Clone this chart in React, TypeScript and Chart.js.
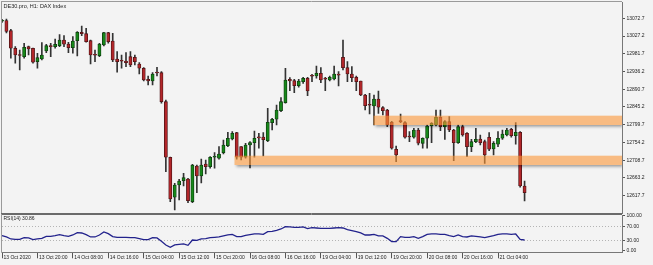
import React, { useEffect, useRef } from "react";
import { Chart, registerables } from "chart.js";

Chart.register(...registerables);

const TITLE = "DE30.pro, H1: DAX Index";
const RSI_TITLE = "RSI(14) 30.86";

const xTickLabels = [
  "13 Oct 2020", "13 Oct 20:00", "14 Oct 08:00", "14 Oct 16:00", "15 Oct 04:00",
  "15 Oct 12:00", "15 Oct 20:00", "16 Oct 08:00", "16 Oct 16:00", "19 Oct 04:00",
  "19 Oct 12:00", "19 Oct 20:00", "20 Oct 08:00", "20 Oct 16:00", "21 Oct 04:00",
];
const priceTicks = [12617.7, 12663.2, 12708.7, 12754.2, 12799.7, 12845.2, 12890.7, 12936.2, 12981.7, 13027.2, 13072.7];
const rsiTicks = [0, 30, 70, 100];
const rsiLevels = [70, 30];

const open = [
  13065, 13067.1, 13040.9, 12995.8, 12979.9, 12974.2, 12999.9, 12995.8, 12961.4, 12968.3,
  12988.8, 13002.4, 12999.9, 13002.4, 13017.1, 13006.8, 12997.3, 13015.3, 13036.8, 13033.2,
  13015.3, 12978.6, 12976.8, 13004.2, 13035.8, 13014.5, 12968.3, 12963.2, 12963.2, 12974.2,
  12972.7, 12955.5, 12944.4, 12916.2, 12911.9, 12933.2, 12933.2, 12858.7, 12716.1, 12613.4,
  12645.0, 12656.0, 12660.4, 12602.1, 12693.7, 12668.1, 12698.9, 12692.0, 12716.1, 12713.5,
  12727.9, 12745.8, 12763.0, 12779.2, 12743.3, 12716.1, 12747.6, 12753.5, 12766.4, 12768.2,
  12758.7, 12804.9, 12813.6, 12835.6, 12856.2, 12916.2, 12912.6, 12899.8, 12910.1, 12918.8,
  12924.7, 12924.7, 12931.6, 12917.0, 12914.4, 12917.0, 12929.8, 12972.7, 12946.0, 12929.8,
  12921.3, 12911.9, 12875.9, 12850.3, 12847.7, 12865.6, 12843.3, 12837.4, 12806.0, 12736.6,
  12810.0, 12804.9, 12768.9, 12767.4, 12786.1, 12751.9, 12764.8, 12796.4, 12799.0, 12818.7,
  12794.6, 12807.4, 12786.1, 12753.5, 12794.6, 12777.6, 12743.3, 12756.1, 12763.0, 12756.1,
  12767.4, 12737.4, 12749.4, 12764.8, 12773.3, 12787.9, 12771.5, 12780.2, 12642.4,
];
const high = [
  13070.0, 13070.9, 13044.5, 12999.9, 12991.4, 13008.6, 13001.7, 12996.5, 12982.9, 13010.1,
  13006.0, 13008.6, 13019.6, 13030.7, 13028.1, 13011.2, 13025.5, 13038.4, 13053.0, 13047.1,
  13017.1, 12991.4, 13008.6, 13036.8, 13036.8, 13034.2, 12987.0, 12978.6, 12984.5, 12987.0,
  12978.6, 12958.8, 12946.0, 12924.7, 12933.2, 12947.0, 12935.7, 12863.1, 12716.8, 12649.3,
  12659.6, 12675.0, 12662.2, 12698.1, 12696.3, 12711.7, 12709.1, 12717.6, 12727.9, 12743.3,
  12760.5, 12780.2, 12781.7, 12780.2, 12743.3, 12751.9, 12756.1, 12783.5, 12777.6, 12779.2,
  12841.8, 12816.1, 12850.3, 12869.0, 12944.4, 12920.3, 12916.2, 12916.2, 12921.3, 12921.3,
  12929.0, 12950.3, 12946.0, 12921.3, 12924.7, 12950.3, 12935.7, 13017.1, 12961.4, 12948.6,
  12924.7, 12911.9, 12877.7, 12880.3, 12875.9, 12886.2, 12845.9, 12839.2, 12808.0, 12745.1,
  12827.2, 12807.4, 12781.7, 12790.5, 12790.5, 12766.0, 12799.0, 12804.9, 12837.4, 12837.4,
  12810.0, 12820.2, 12787.9, 12799.0, 12799.0, 12779.2, 12762.2, 12790.5, 12773.3, 12760.5,
  12779.2, 12756.1, 12781.7, 12786.1, 12790.5, 12790.5, 12804.9, 12781.7, 12655.2,
];
const low = [
  13062.0, 13035.0, 12970.1, 12957.3, 12940.1, 12970.1, 12978.6, 12957.3, 12944.4, 12965.7,
  12984.5, 12974.2, 12995.8, 12999.9, 12999.9, 12984.5, 12982.9, 12976.0, 13028.1, 13011.2,
  12955.5, 12961.4, 12974.2, 13001.7, 13008.6, 12961.4, 12934.2, 12944.4, 12948.6, 12948.6,
  12952.9, 12929.8, 12911.9, 12901.6, 12901.6, 12924.7, 12854.6, 12679.1, 12602.1, 12580.8,
  12606.5, 12642.4, 12599.6, 12599.6, 12625.2, 12650.1, 12673.2, 12687.8, 12687.8, 12710.9,
  12724.5, 12743.3, 12760.5, 12710.9, 12709.1, 12713.5, 12688.6, 12716.1, 12739.2, 12719.4,
  12756.1, 12786.1, 12799.0, 12833.1, 12854.6, 12887.0, 12881.8, 12895.7, 12905.9, 12874.1,
  12910.1, 12918.8, 12907.5, 12887.0, 12911.9, 12914.4, 12899.0, 12940.1, 12910.1, 12910.1,
  12887.0, 12874.1, 12837.4, 12827.2, 12799.0, 12828.9, 12824.6, 12794.6, 12736.6, 12704.8,
  12804.9, 12764.8, 12756.1, 12764.8, 12747.6, 12739.2, 12739.2, 12753.5, 12796.4, 12784.3,
  12762.2, 12781.7, 12707.3, 12751.9, 12770.0, 12717.6, 12730.4, 12753.5, 12747.6, 12700.6,
  12733.0, 12722.0, 12743.3, 12762.2, 12770.7, 12767.4, 12749.4, 12639.1, 12603.9,
];
const close = [
  13067.0, 13038.9, 12995.8, 12978.6, 12977.3, 12998.3, 12994.0, 12959.8, 12971.6, 12978.6,
  13002.4, 12999.9, 13006.0, 13017.1, 13006.0, 12997.3, 13014.5, 13036.8, 13033.2, 13012.7,
  12978.6, 12977.8, 13006.8, 13035.8, 13012.7, 12965.7, 12961.4, 12962.4, 12958.8, 12952.9,
  12961.4, 12944.4, 12914.4, 12911.9, 12929.8, 12932.4, 12858.7, 12716.1, 12609.1, 12645.0,
  12655.2, 12663.7, 12604.7, 12696.3, 12668.1, 12696.3, 12692.0, 12716.1, 12717.6, 12724.5,
  12747.6, 12764.8, 12777.6, 12716.1, 12716.1, 12747.6, 12753.5, 12764.8, 12765.8, 12761.2,
  12805.9, 12813.6, 12837.4, 12858.7, 12914.4, 12911.9, 12899.8, 12911.9, 12918.8, 12886.2,
  12923.9, 12931.6, 12914.4, 12916.2, 12921.3, 12929.8, 12926.5, 12946.0, 12929.8, 12920.3,
  12910.1, 12875.9, 12848.5, 12849.5, 12865.6, 12844.4, 12835.6, 12799.0, 12739.2, 12722.0,
  12807.4, 12767.4, 12768.2, 12786.1, 12752.0, 12764.8, 12796.4, 12803.3, 12818.7, 12794.6,
  12807.4, 12786.1, 12753.5, 12794.6, 12773.3, 12743.3, 12756.1, 12762.2, 12753.5, 12722.0,
  12736.6, 12751.9, 12764.8, 12775.8, 12786.1, 12771.5, 12780.2, 12642.4, 12625.2,
];
const rsi = [
  43.3, 39.5, 33.8, 32.8, 32.8, 37.6, 36.7, 31.9, 33.8, 35.7,
  41.4, 41.4, 43.3, 46.2, 43.3, 41.4, 45.2, 51.9, 50.9, 46.2,
  39.5, 39.5, 45.2, 53.8, 49.0, 40.5, 38.6, 38.6, 38.6, 37.6,
  37.6, 34.7, 31.9, 31.9, 37.6, 36.7, 27.1, 16.7, 10.0, 16.7,
  18.6, 19.5, 15.7, 30.9, 30.0, 33.8, 34.7, 37.6, 38.6, 39.5,
  42.4, 45.2, 47.1, 40.5, 40.5, 44.3, 46.2, 48.1, 48.1, 47.1,
  54.7, 55.7, 58.5, 62.3, 69.0, 68.1, 67.1, 67.1, 68.1, 63.3,
  66.2, 65.2, 64.3, 64.3, 64.3, 65.2, 66.2, 65.2, 60.5, 57.6,
  54.7, 50.9, 45.2, 45.2, 47.1, 42.4, 42.4, 35.7, 26.2, 26.2,
  40.5, 38.6, 38.6, 40.5, 35.7, 40.5, 47.1, 48.1, 48.1, 47.1,
  47.1, 43.3, 40.5, 45.2, 40.5, 39.5, 42.4, 41.4, 39.5, 37.6,
  40.5, 43.3, 47.1, 48.1, 48.1, 47.1, 48.1, 32.8, 30.86,
];

// support / resistance zones: starting bar index and price range
const bandStart = [52.5, 83.9];
const bandLow = [12696.3, 12798.9];
const bandHigh = [12720.1, 12822.8];

const PRICE_MIN = 12571.8;
const PRICE_MAX = 13114.5;
const RSI_MIN = -4.3;
const RSI_MAX = 102.3;
const SLOT_COUNT = 141;
const LABEL_EVERY = 8;

const FONT_FAMILY = "'Liberation Sans', Arial, sans-serif";
const FONT_SIZE = 5;
const TITLE_SIZE = 5.5;
const BULL = "#17881a";
const BULL_EDGE = "#0d3a0e";
const BEAR = "#b2262a";
const BEAR_EDGE = "#4a1214";
const WICK = "#333333";
const BAND = "rgba(252,150,55,0.6)";
const TEXT = "#1c1c1c";

const slotLabels = Array.from({ length: SLOT_COUNT }, (_, i) =>
  i % LABEL_EVERY === 0 && i / LABEL_EVERY < xTickLabels.length ? xTickLabels[i / LABEL_EVERY] : ""
);

const tickFont = { family: FONT_FAMILY, size: FONT_SIZE };

const mainDecor = {
  id: "mainDecor",
  afterDatasetsDraw(chart: any) {
    const { ctx, chartArea: a, scales } = chart;
    const xs = scales.x;
    const ys = scales.y;
    for (let k = 0; k < bandStart.length; k++) {
      const x0 = xs.getPixelForValue(bandStart[k]);
      const yT = ys.getPixelForValue(bandHigh[k]);
      const yB = ys.getPixelForValue(bandLow[k]);
      ctx.save();
      ctx.beginPath();
      ctx.rect(a.left, a.top, a.right - a.left, a.bottom - a.top);
      ctx.rect(x0, yT, a.right - x0, yB - yT);
      ctx.clip("evenodd");
      ctx.shadowColor = "rgba(0,0,0,0.4)";
      ctx.shadowBlur = 3;
      ctx.shadowOffsetX = 10000 + 1;
      ctx.shadowOffsetY = 2;
      ctx.fillStyle = "#000";
      ctx.fillRect(x0 - 10000, yT, a.right - x0, yB - yT);
      ctx.restore();
      ctx.save();
      ctx.beginPath();
      ctx.rect(a.left, a.top, a.right - a.left, a.bottom - a.top);
      ctx.clip();
      ctx.fillStyle = BAND;
      ctx.fillRect(x0, yT, a.right - x0, yB - yT);
      ctx.restore();
    }
  },
  afterDraw(chart: any) {
    const { ctx, chartArea: a } = chart;
    ctx.save();
    ctx.lineWidth = 1;
    ctx.strokeStyle = "#9a9a9a";
    ctx.beginPath();
    ctx.moveTo(1, 1.5);
    ctx.lineTo(a.right, 1.5);
    ctx.moveTo(1.5, 1);
    ctx.lineTo(1.5, a.bottom + 0.5);
    ctx.stroke();
    ctx.strokeStyle = "#6a6a6a";
    ctx.beginPath();
    ctx.moveTo(1, 213.5);
    ctx.lineTo(a.right, 213.5);
    ctx.stroke();
    ctx.fillStyle = TEXT;
    ctx.font = `${TITLE_SIZE}px ${FONT_FAMILY}`;
    ctx.textBaseline = "middle";
    ctx.textAlign = "left";
    ctx.fillText(TITLE, 3.5, 6.3);
    ctx.restore();
  },
};

const rsiDecor = {
  id: "rsiDecor",
  beforeDatasetsDraw(chart: any) {
    const { ctx, chartArea: a, scales } = chart;
    ctx.save();
    ctx.strokeStyle = "#b4b4b4";
    ctx.lineWidth = 1;
    ctx.setLineDash([1, 2]);
    for (const lv of rsiLevels) {
      const y = Math.round(scales.y.getPixelForValue(lv)) + 0.5;
      ctx.beginPath();
      ctx.moveTo(a.left, y);
      ctx.lineTo(a.right, y);
      ctx.stroke();
    }
    ctx.restore();
  },
  afterDraw(chart: any) {
    const { ctx, chartArea: a } = chart;
    ctx.save();
    ctx.lineWidth = 1;
    ctx.strokeStyle = "#6a6a6a";
    ctx.beginPath();
    ctx.moveTo(1, a.top - 0.5);
    ctx.lineTo(a.right, a.top - 0.5);
    ctx.stroke();
    ctx.strokeStyle = "#9a9a9a";
    ctx.beginPath();
    ctx.moveTo(1.5, a.top - 1);
    ctx.lineTo(1.5, a.bottom + 0.5);
    ctx.stroke();
    ctx.fillStyle = TEXT;
    ctx.font = `${FONT_SIZE}px ${FONT_FAMILY}`;
    ctx.textBaseline = "middle";
    ctx.textAlign = "left";
    ctx.fillText(RSI_TITLE, 3.5, a.top + 4);
    ctx.restore();
  },
};

export default function App() {
  const mainRef = useRef<HTMLCanvasElement>(null);
  const rsiRef = useRef<HTMLCanvasElement>(null);

  useEffect(() => {
    const bodies = open.map((o, i) => [o, close[i]]);
    const wicks = low.map((l, i) => [l, high[i]]);
    const bull = open.map((o, i) => close[i] >= o);

    const main = new Chart(mainRef.current as HTMLCanvasElement, {
      type: "bar",
      data: {
        labels: slotLabels,
        datasets: [
          {
            data: bodies as any,
            backgroundColor: bull.map((b) => (b ? BULL : BEAR)),
            borderColor: bull.map((b) => (b ? BULL_EDGE : BEAR_EDGE)),
            borderWidth: 0.8,
            borderSkipped: false,
            barThickness: 3.2,
            minBarLength: 1,
            grouped: false,
            order: 0,
          } as any,
          {
            data: wicks as any,
            backgroundColor: WICK,
            barThickness: 1,
            grouped: false,
            order: 1,
          } as any,
        ],
      },
      options: {
        animation: false,
        responsive: true,
        maintainAspectRatio: false,
        devicePixelRatio: 1,
        events: [],
        layout: { padding: { left: 2, top: 2, right: 0, bottom: 0.5 } },
        plugins: { legend: { display: false }, tooltip: { enabled: false } },
        scales: {
          x: { type: "category", offset: false, display: false },
          y: {
            position: "right",
            min: PRICE_MIN,
            max: PRICE_MAX,
            afterBuildTicks: (s: any) => {
              s.ticks = priceTicks.map((v) => ({ value: v }));
            },
            afterFit: (s: any) => {
              s.width = 31;
              s.paddingTop = 0;
              s.paddingBottom = 0;
            },
            ticks: {
              callback: (v: any) => Number(v).toFixed(1),
              font: tickFont,
              color: TEXT,
              padding: 1.5,
            },
            grid: { drawOnChartArea: false, drawTicks: true, tickLength: 3, color: "#555" },
            border: { display: true, color: "#777", width: 1 },
          } as any,
        },
      },
      plugins: [mainDecor],
    });

    const rsiChart = new Chart(rsiRef.current as HTMLCanvasElement, {
      type: "line",
      data: {
        labels: slotLabels,
        datasets: [
          {
            data: rsi,
            borderColor: "#22228c",
            borderWidth: 1.3,
            pointRadius: 0,
            tension: 0,
            fill: false,
          },
        ],
      },
      options: {
        animation: false,
        responsive: true,
        maintainAspectRatio: false,
        devicePixelRatio: 1,
        events: [],
        layout: { padding: { left: 2, top: 4, right: 0, bottom: 0 } },
        plugins: { legend: { display: false }, tooltip: { enabled: false } },
        scales: {
          x: {
            type: "category",
            offset: false,
            afterBuildTicks: (s: any) => {
              s.ticks = s.ticks.filter((t: any) => slotLabels[t.value] !== "");
            },
            afterFit: (s: any) => {
              s.height = 12.7;
              s.paddingLeft = 0;
              s.paddingRight = 0;
            },
            ticks: {
              autoSkip: false,
              maxRotation: 0,
              minRotation: 0,
              align: "start",
              labelOffset: 1.5,
              padding: -4,
              font: tickFont,
              color: TEXT,
              callback: (v: any) => slotLabels[v],
            },
            grid: { drawOnChartArea: false, drawTicks: true, tickLength: 6, color: "#555" },
            border: { display: true, color: "#777", width: 1 },
          } as any,
          y: {
            position: "right",
            min: RSI_MIN,
            max: RSI_MAX,
            afterBuildTicks: (s: any) => {
              s.ticks = rsiTicks.map((v) => ({ value: v }));
            },
            afterFit: (s: any) => {
              s.width = 31;
              s.paddingTop = 0;
              s.paddingBottom = 0;
            },
            ticks: {
              callback: (v: any) => Number(v).toFixed(2),
              font: tickFont,
              color: TEXT,
              padding: 1.5,
            },
            grid: { drawOnChartArea: false, drawTicks: true, tickLength: 3, color: "#555" },
            border: { display: true, color: "#777", width: 1 },
          } as any,
        },
      },
      plugins: [rsiDecor],
    });

    return () => {
      main.destroy();
      rsiChart.destroy();
    };
  }, []);

  return (
    <div style={{ position: "absolute", left: 0, top: 0, width: 653, height: 265, background: "#f3f3f3" }}>
      <div style={{ position: "absolute", left: 0, top: 0, width: 653, height: 214 }}>
        <canvas ref={mainRef} />
      </div>
      <div style={{ position: "absolute", left: 0, top: 211, width: 653, height: 54 }}>
        <canvas ref={rsiRef} />
      </div>
    </div>
  );
}
